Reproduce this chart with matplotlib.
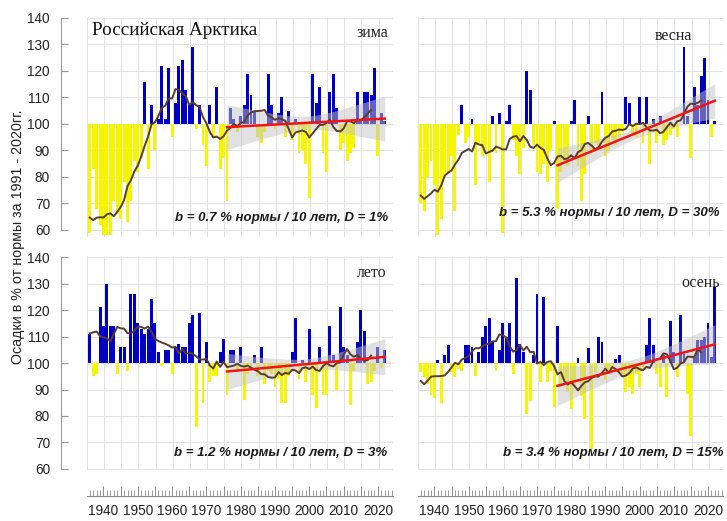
import numpy as np
import pandas as pd
import matplotlib
matplotlib.use('Agg')
import matplotlib.pyplot as plt
import matplotlib.ticker as ticker

plt.rcParams['font.family'] = ['Liberation Sans', 'DejaVu Sans']

# precipitation, % of the 1991-2020 norm, Russian Arctic
years = np.arange(1936, 2023)

winter = [59, 83, 68, 62, 58, 58, 58, 71, 66, 64, 78, 63, 71, 86, 82, 87, 116, 83, 107, 90,
          102, 122, 102, 121, 95, 108, 122, 124, 113, 107, 129, 98, 107, 92, 84, 107, 95, 114, 83, 87,
          71, 106, 102, 97, 103, 107, 119, 111, 105, 95, 93, 97, 119, 107, 98, 104, 110, 95, 105, 94,
          102, 89, 90, 85, 72, 119, 108, 114, 89, 82, 112, 119, 106, 90, 93, 86, 89, 91, 112, 101,
          112, 112, 111, 121, 88, 104, 101]
spring = [70, 67, 80, 86, 77, 58, 64, 80, 82, 88, 67, 96, 107, 93, 95, 102, 77, 93, 88, 90,
          78, 103, 89, 104, 59, 101, 107, 94, 88, 81, 91, 120, 113, 92, 82, 81, 85, 78, 90, 101,
          68, 82, 86, 84, 101, 109, 84, 71, 81, 103, 89, 93, 90, 112, 88, 90, 94, 92, 95, 97,
          110, 108, 96, 95, 110, 93, 110, 85, 102, 93, 103, 92, 94, 96, 98, 95, 100, 129, 103, 87,
          114, 107, 118, 125, 109, 95, 101]
summer = [111, 95, 96, 121, 114, 130, 114, 114, 96, 106, 106, 97, 126, 126, 115, 113, 111, 113, 124, 115,
          104, 99, 105, 105, 96, 106, 107, 106, 106, 115, 118, 76, 119, 85, 108, 93, 95, 95, 104, 109,
          88, 105, 105, 97, 106, 86, 96, 98, 103, 95, 106, 92, 97, 96, 91, 94, 85, 85, 95, 104,
          117, 94, 101, 93, 113, 88, 83, 106, 88, 88, 114, 103, 90, 121, 106, 103, 84, 97, 108, 120,
          112, 92, 93, 97, 106, 98, 105]
autumn = [96.6, 94.7, 92, 88, 86.8, 101, 84.8, 103, 106.7, 96.6, 94.7, 97.8, 97, 106.7, 106.7, 106, 95, 104, 110, 114,
          116.8, 108, 97, 104.8, 115, 110, 115, 96, 132, 107, 104, 80.8, 85.8, 103, 126, 92.8, 125, 93, 97, 83.3,
          114, 91, 93.4, 89, 82.7, 92, 102, 87.7, 78.9, 105.8, 67.5, 96.6, 110, 108, 93.4, 96.6, 97.9, 101.6, 103, 96,
          89, 91, 88.4, 96, 91, 97.2, 106.7, 116.8, 106.7, 96, 91, 103, 87, 116, 104, 94.7, 118, 103.5, 88.4, 72.6,
          102.3, 108.6, 108.6, 110, 115, 102.3, 128.8]

seasons = ['зима', 'весна', 'лето', 'осень']
b_values = ['0.7', '5.3', '1.2', '3.4']
d_values = ['1', '30', '3', '15']
# linear trend since 1976: value in 1976 and slope (% per 10 years)
trend_start = [98.8, 84.4, 96.8, 91.4]
trend_slope = [0.7, 5.3, 1.2, 3.4]
# half-width of the grey confidence band, middle and ends of the trend period
band_mid = [2.5, 2.0, 2.0, 2.5]
band_end = [8.5, 6.5, 6.8, 7.4]
trend_from = 1976
smooth_end = 2018

data = [winter, spring, summer, autumn]

fig = plt.figure(figsize=(7.27, 5.21), dpi=100)

# panel boxes in figure fraction
left_x, left_w = 0.1197, 0.4209
right_x, right_w = 0.575, 0.4195
top_y, top_h = 0.5459, 0.4221
bot_y, bot_h = 0.0973, 0.4119
boxes = [[left_x, top_y, left_w, top_h], [right_x, top_y, right_w, top_h],
         [left_x, bot_y, left_w, bot_h], [right_x, bot_y, right_w, bot_h]]
ylims = [(57.5, 140.5), (57.5, 140.5), (59.5, 140.5), (59.5, 140.5)]
xlim = (1935.2, 2024.4)

season_pos = [(0.984, 0.925), (0.90, 0.912), (0.98, 0.92), (0.99, 0.873)]
note_pos = [(0.984, 0.084), (0.99, 0.107), (0.98, 0.08), (1.0, 0.08)]

blue = '#0000c4'
yellow = '#f6f600'

for i in range(4):
    ax = fig.add_axes(boxes[i])
    vals = np.array(data[i], dtype=float)
    cols = [blue if v >= 100 else yellow for v in vals]
    ax.bar(years, vals - 100, bottom=100, width=0.85, color=cols, zorder=2)

    # grey band and red trend
    ty = years[years >= trend_from]
    tline = trend_start[i] + trend_slope[i] / 10 * (ty - trend_from)
    xm = (ty[0] + ty[-1]) / 2
    half = (ty[-1] - ty[0]) / 2
    hw = np.sqrt(band_mid[i] ** 2 + (band_end[i] ** 2 - band_mid[i] ** 2) * ((ty - xm) / half) ** 2)
    ax.fill_between(ty, tline - hw, tline + hw, color='#c4c4c4', alpha=0.5, lw=0, zorder=3)

    # smoothed curve (11-year running mean)
    s = pd.Series(vals, index=years).rolling(11, center=True, min_periods=5).mean()
    s = s[s.index <= smooth_end]
    ax.plot(s.index, s.values, color='#5a3b2c', lw=1.4, zorder=4)
    ax.plot(ty, tline, color='#f01414', lw=1.8, zorder=5)

    ax.set_xlim(xlim)
    ax.set_ylim(ylims[i])
    ax.set_xticks(np.arange(xlim[0], xlim[1] + 0.1, 5))
    ax.set_yticks(np.arange(60, 141, 10))
    ax.grid(True, color='#e2e2e2', lw=0.7, zorder=0)
    ax.set_axisbelow(True)
    ax.tick_params(axis='x', bottom=False, labelbottom=False)
    for sp in ['top', 'right', 'bottom']:
        ax.spines[sp].set_visible(False)
    if i % 2 == 0:
        ax.spines['left'].set_position(('outward', 18.7))
        ax.spines['left'].set_bounds(60, 140)
        ax.spines['left'].set_color('#9a9a9a')
        ax.spines['left'].set_linewidth(0.8)
        ax.tick_params(axis='y', direction='in', length=5, width=0.8, color='#9a9a9a',
                       pad=8, labelsize=9.8, labelcolor='#222222')
    else:
        ax.spines['left'].set_visible(False)
        ax.tick_params(axis='y', left=False, labelleft=False)

    ax.text(season_pos[i][0], season_pos[i][1], seasons[i], transform=ax.transAxes,
            ha='right', va='center', fontsize=11.5, family='Liberation Serif', color='#222222')
    ax.text(note_pos[i][0], note_pos[i][1],
            'b = ' + b_values[i] + ' % нормы / 10 лет, D = ' + d_values[i] + '%',
            transform=ax.transAxes, ha='right', va='center', fontsize=9.5,
            fontweight='bold', fontstyle='italic', color='#1a1a1a', zorder=6)
    if i == 0:
        ax.text(0.016, 0.935, 'Российская Арктика', transform=ax.transAxes, ha='left',
                va='center', fontsize=13.8, family='Liberation Serif', color='#111111')

# year axes under the bottom panels
for x0, w in [(left_x, left_w), (right_x, right_w)]:
    tx = fig.add_axes([x0, 0.048, w, 0.03])
    tx.set_xlim(xlim)
    tx.set_yticks([])
    tx.patch.set_visible(False)
    for sp in ['top', 'right', 'left']:
        tx.spines[sp].set_visible(False)
    tx.spines['bottom'].set_color('#8a8a8a')
    tx.spines['bottom'].set_linewidth(0.8)
    tx.xaxis.set_major_locator(ticker.MultipleLocator(5))
    tx.xaxis.set_minor_locator(ticker.MultipleLocator(1))
    tx.xaxis.set_major_formatter(ticker.FuncFormatter(
        lambda v, p: '%d' % v if round(v) % 10 == 0 else ''))
    tx.tick_params(axis='x', which='major', direction='in', length=7, width=0.7,
                   color='#8a8a8a', pad=6, labelsize=9.8, labelcolor='#222222')
    tx.tick_params(axis='x', which='minor', direction='in', length=4, width=0.6,
                   color='#8a8a8a')

fig.text(0.025, 0.545, 'Осадки в % от нормы за 1991 - 2020гг.', rotation=90,
         ha='center', va='center', fontsize=10.3, color='#222222')

fig.savefig('out.png', dpi=100)
